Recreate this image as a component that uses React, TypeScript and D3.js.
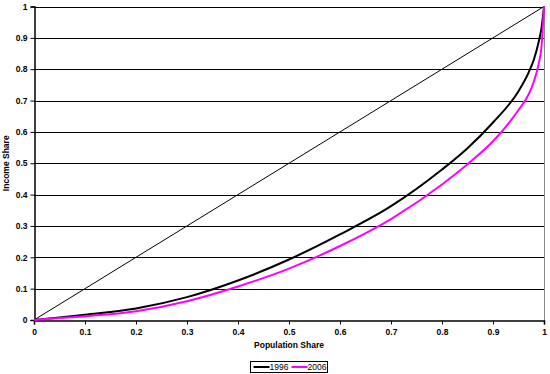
import { useEffect, useRef } from 'react'
import * as d3 from 'd3'

// population share (x) and cumulative income share for each year
const popShare = [0, 0.05, 0.1, 0.2, 0.3, 0.4, 0.5, 0.6, 0.7, 0.8, 0.85, 0.9, 0.95, 0.97, 0.98, 0.99, 0.995, 1]
const income1996 = [0, 0.008, 0.017, 0.037, 0.073, 0.126, 0.193, 0.273, 0.363, 0.48, 0.548, 0.63, 0.73, 0.79, 0.83, 0.89, 0.93, 1]
const income2006 = [0, 0.006, 0.012, 0.028, 0.06, 0.107, 0.164, 0.236, 0.322, 0.432, 0.497, 0.57, 0.67, 0.72, 0.76, 0.82, 0.87, 1]
const seriesNames = ['1996', '2006']
const seriesColors = ['#000000', '#ff00ff']
const tickValues = [0, 0.1, 0.2, 0.3, 0.4, 0.5, 0.6, 0.7, 0.8, 0.9, 1]

const W = 550
const H = 374
const M = { left: 34, right: 6, top: 6.5, bottom: 54 }

export default function App() {
  const ref = useRef<SVGSVGElement>(null)

  useEffect(() => {
    const svg = d3.select(ref.current)
    svg.selectAll('*').remove()

    const x = d3.scaleLinear().domain([0, 1]).range([M.left, W - M.right])
    const y = d3.scaleLinear().domain([0, 1]).range([H - M.bottom, M.top])
    const font = '"Liberation Sans", Arial, sans-serif'

    // gridlines
    svg.append('g')
      .selectAll('line')
      .data(tickValues.slice(1))
      .join('line')
      .attr('x1', x(0)).attr('x2', x(1))
      .attr('y1', (d) => Math.round(y(d)) + 0.5).attr('y2', (d) => Math.round(y(d)) + 0.5)
      .attr('stroke', '#000').attr('stroke-width', 1)

    // right border
    svg.append('line')
      .attr('x1', Math.round(x(1)) + 0.5).attr('x2', Math.round(x(1)) + 0.5)
      .attr('y1', y(1)).attr('y2', y(0))
      .attr('stroke', '#888')

    // axes
    const yAxis = svg.append('g')
      .attr('transform', `translate(${Math.round(x(0)) + 0.5},0)`)
      .call(d3.axisLeft(y).tickValues(tickValues).tickFormat(d3.format('')).tickSize(4).tickPadding(3))
    const xAxis = svg.append('g')
      .attr('transform', `translate(0,${Math.round(y(0)) + 0.5})`)
      .call(d3.axisBottom(x).tickValues(tickValues).tickFormat(d3.format('')).tickSize(4).tickPadding(4))
    for (const g of [yAxis, xAxis]) {
      g.select('.domain').attr('stroke', '#000').attr('stroke-width', 1.5)
      g.selectAll('.tick line').attr('stroke', '#000')
      g.selectAll('.tick text')
        .attr('font-family', font).attr('font-size', 8.5).attr('font-weight', 'bold').attr('fill', '#000')
    }

    // equality line
    svg.append('line')
      .attr('x1', x(0)).attr('y1', y(0)).attr('x2', x(1)).attr('y2', y(1))
      .attr('stroke', '#000').attr('stroke-width', 1)

    const line = d3.line<number>()
      .x((_, i) => x(popShare[i]))
      .y((d) => y(d))
      .curve(d3.curveMonotoneX)

    ;[income1996, income2006].forEach((s, i) => {
      svg.append('path')
        .attr('d', line(s))
        .attr('fill', 'none')
        .attr('stroke', seriesColors[i])
        .attr('stroke-width', 2)
    })

    // axis titles
    svg.append('text')
      .attr('x', (x(0) + x(1)) / 2).attr('y', 348)
      .attr('text-anchor', 'middle')
      .attr('font-family', font).attr('font-size', 8.5).attr('font-weight', 'bold')
      .text('Population Share')
    svg.append('text')
      .attr('transform', `translate(9,${(y(0) + y(1)) / 2}) rotate(-90)`)
      .attr('text-anchor', 'middle')
      .attr('font-family', font).attr('font-size', 8.5).attr('font-weight', 'bold')
      .text('Income Share')

    // legend
    const lg = svg.append('g').attr('transform', 'translate(250.5,361.5)')
    lg.append('rect').attr('width', 77).attr('height', 11).attr('fill', '#fff').attr('stroke', '#000')
    seriesNames.forEach((n, i) => {
      const ox = 3 + i * 38
      lg.append('line')
        .attr('x1', ox).attr('x2', ox + 16).attr('y1', 5.5).attr('y2', 5.5)
        .attr('stroke', seriesColors[i]).attr('stroke-width', 2)
      lg.append('text')
        .attr('x', ox + 16).attr('y', 8.7)
        .attr('font-family', font).attr('font-size', 8.5)
        .text(n)
    })
  }, [])

  return (
    <div style={{ position: 'absolute', left: 0, top: 0 }}>
      <svg ref={ref} width={W} height={H} style={{ display: 'block', background: '#fff' }} />
    </div>
  )
}
